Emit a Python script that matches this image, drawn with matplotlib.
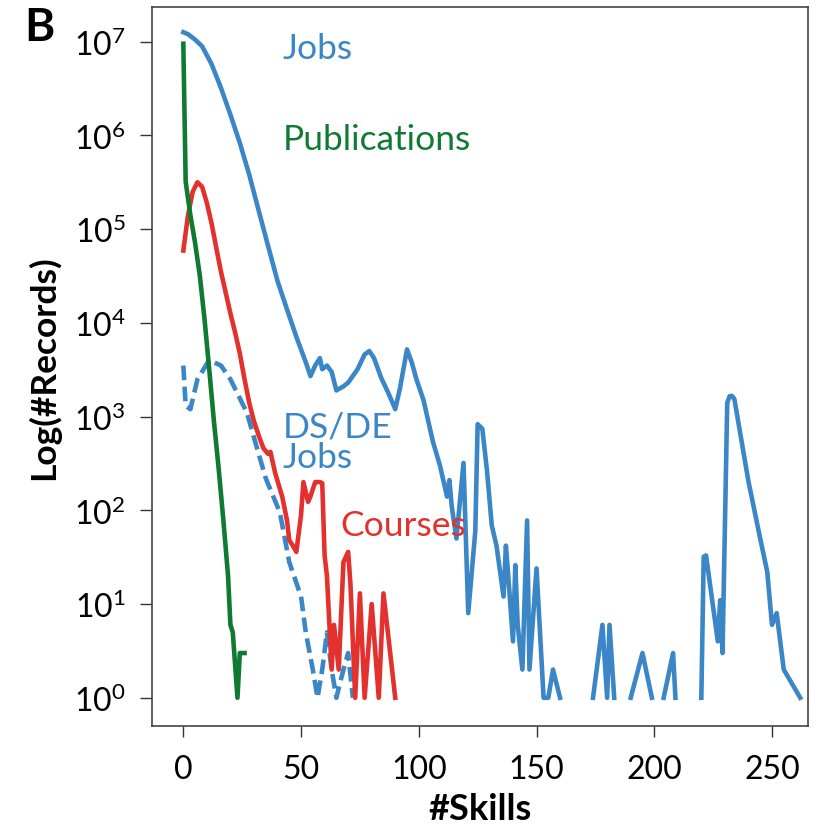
import numpy as np
import matplotlib
matplotlib.use("Agg")
import matplotlib.pyplot as plt

plt.rcParams['font.family'] = ['Lato', 'DejaVu Sans']
plt.rcParams['mathtext.fontset'] = 'custom'
plt.rcParams['mathtext.rm'] = 'Lato'

# Jobs (all postings): number of skills -> number of records (nan = no records)
jobs_x = [0, 2, 5, 8, 12, 16, 20, 24, 28, 32, 36, 40, 44, 48, 52, 54, 56, 58, 59, 61,
          63, 65, 68, 70, 74, 77, 79, 81, 84, 87, 90, 92, 95, 97, 99, 102, 106, 109, 112, 113,
          114, 116, 119, 120, 121, 124, 125, 127, 129, 131, 133, 136, 137, 138, 140, 141, 142, 144, 146, 147,
          150, 153, 155, 157, 160, 165, 174, 178, 180, 181, 183, 186, 190, 195, 199, 202, 204, 208, 209, 215,
          220, 221, 222, 227, 228, 229, 231, 232, 233, 234, 236, 240, 245, 248, 250, 252, 255, 262]
jobs_y = [12600000, 12000000, 10500000, 8900000, 5750000, 3200000, 1660000, 830000, 380000, 158000,
          66000, 28000, 14000, 7100, 3800, 2700, 3500, 4200, 3200, 3500,
          3000, 1900, 2100, 2300, 3200, 4600, 5000, 4200, 2600, 1800,
          1200, 2000, 5200, 3800, 2500, 1500, 540, 300, 140, 210,
          110, 50, 320, 50, 8, 60, 830, 740, 260, 69,
          42, 12, 42, 20, 4, 26, 6, 2, 78, 2,
          24, 1, 1, 2, 1, np.nan, 1, 6, 1, 6,
          1, np.nan, 1, 3, 1, np.nan, 1, 3, 1, np.nan,
          1, 32, 33, 4, 11, 3, 1400, 1650, 1660, 1550, 790,
          204, 50, 22, 6, 8, 2, 1]

# Courses
courses_x = [0, 2, 4, 6, 8, 10, 12, 14, 16, 18, 20, 22, 24, 26, 28, 30, 32, 34, 36, 37,
             39, 42, 44, 45, 47, 48, 50, 51, 53, 54, 56, 58, 59, 60, 61, 63, 64, 66, 68, 70,
             71, 73, 75, 77, 80, 83, 85, 90]
courses_y = [59000, 141000, 251000, 316000, 282000, 190000, 115000, 63000, 35000, 21000,
             12600, 7900, 4700, 2500, 1400, 890, 630, 460, 400, 420,
             250, 140, 79, 48, 40, 36, 89, 200, 123, 141,
             200, 200, 195, 33, 20, 2, 6, 2, 28, 36,
             16, 1, 13, 1, 10, 1, 13, 1]

# Publications
pubs_x = [0, 1, 3, 5, 7, 9, 11, 13, 15, 17, 19, 20, 21, 23, 24, 26]
pubs_y = [9500000, 320000, 141000, 71000, 32000, 11000, 3200, 890, 280, 79,
          20, 6, 5, 1, 3, 3]

# DS/DE jobs
dsde_x = [0, 1, 3, 6, 11, 16, 20, 27, 31, 35, 41, 45, 50, 52, 55, 57, 59, 61, 63, 65,
          68, 70, 72]
dsde_y = [3500, 1300, 1200, 2500, 4000, 3500, 2500, 1100, 490, 220,
          95, 28, 12, 5, 2, 1, 2, 5, 2, 1,
          2, 3, 1]

blue = '#3a86c6'
red = '#e3322e'
green = '#0f7a32'

fig = plt.figure(figsize=(8.26, 8.28), dpi=100)
ax = fig.add_axes([152 / 826, 1 - 727 / 828, 656 / 826, 719 / 828])

lw = 3.3
ax.plot(jobs_x, jobs_y, color=blue, lw=lw, solid_joinstyle='round')
ax.plot(dsde_x, dsde_y, color=blue, lw=lw, ls=(0, (3.2, 1.4)))
ax.plot(courses_x, courses_y, color=red, lw=lw, solid_joinstyle='round')
ax.plot(pubs_x, pubs_y, color=green, lw=lw, solid_joinstyle='round')

ax.set_yscale('log')
ax.set_xlim(-13.3, 265.3)
ax.set_ylim(0.5, 2.34e7)
ax.set_xticks([0, 50, 100, 150, 200, 250])
ax.set_yticks([10.0 ** k for k in range(8)])
ax.yaxis.set_minor_locator(matplotlib.ticker.NullLocator())

ax.tick_params(axis='both', direction='out', labelsize=23, width=1, color='#333333')
ax.tick_params(axis='y', length=9, pad=10)
ax.tick_params(axis='x', length=8, pad=12)
for s in ax.spines.values():
    s.set_linewidth(1.2)
    s.set_color('#444444')

ax.set_xlabel('#Skills', fontsize=26, fontweight='bold', labelpad=6)
ax.set_ylabel('Log(#Records)', fontsize=25.5, fontweight='bold', labelpad=10)

txt = 25.5
ax.text(42.3, 8.5e6, 'Jobs', color=blue, fontsize=txt, va='center', ha='left')
ax.text(42.3, 9.2e5, 'Publications', color=green, fontsize=txt, va='center', ha='left')
ax.text(42.3, 540, 'DS/DE\nJobs', color=blue, fontsize=txt, va='center', ha='left',
        linespacing=0.95)
ax.text(66.5, 69, 'Courses', color=red, fontsize=txt, va='center', ha='left')

fig.text(24 / 826, 1 - 28 / 828, 'B', fontsize=33, fontweight='bold', va='center', ha='left')

fig.savefig('out.png', dpi=100)
